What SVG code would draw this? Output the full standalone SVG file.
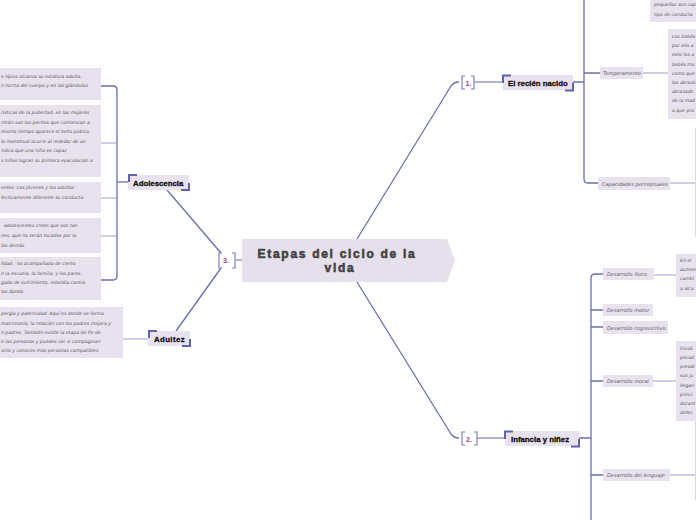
<svg xmlns="http://www.w3.org/2000/svg" width="696" height="520" viewBox="0 0 696 520">
<style>
.blk{fill:#e8e2ee}
.t{font-family:"DejaVu Sans",sans-serif;font-style:italic;font-size:4.6px;fill:#5a5a5a}
.st{font-family:"DejaVu Sans",sans-serif;font-style:italic;font-size:5px;fill:#5a5a5a}
.lbl{font-family:"Liberation Sans",Arial,sans-serif;font-weight:bold;font-size:7.8px;fill:#111;stroke:#111;stroke-width:0.3}
.num{font-family:"Liberation Sans",Arial,sans-serif;font-weight:bold;font-size:7px;fill:#9b3f8f}
.main{fill:none;stroke:#6c6eab;stroke-width:1.3}
.thin{fill:none;stroke:#9c9dca;stroke-width:1}
.br{fill:none;stroke:#7d7fb8;stroke-width:1.2}
.cor{fill:none;stroke:#5f62a6;stroke-width:2}
.title{font-family:"Liberation Sans",Arial,sans-serif;font-weight:bold;font-size:12px;fill:#444;stroke:#444;stroke-width:0.6;letter-spacing:1.7px}
</style>
<g id="connectors">
<path class="main" d="M357 239 L451 86 Q454 82 459 82"/>
<path class="main" d="M357 282 L451 434 Q454 438 459 438"/>
<path class="main" d="M221 253 L167 190"/>
<path class="main" d="M221 268 L176 331"/>
<path class="br" d="M236 260 H242"/>
<path class="br" d="M475 82 H503"/>
<path class="br" d="M477 438 H505"/>
<path class="main" d="M128 182 H117"/>
<path class="main" d="M117 182 V90 Q117 86 113 86 H101"/>
<path class="main" d="M117 182 V276 Q117 280 113 280 H101"/>
<path class="thin" d="M117 143 H101 M117 198 H101 M117 236 H101"/>
<path class="thin" d="M148 339 H123"/>
<path class="main" d="M573 82 H584 M584 0 V179 Q584 183 588 183 H598 M584 73 H600"/>
<path class="thin" d="M643 73 H668 M670 183 H696"/>
<path class="main" d="M579 438 H591 M591 520 V278 Q591 274 595 274 H603 M591 310 H603 M591 327 H603 M591 381 H603 M591 475 H603"/>
<path class="thin" d="M654 275 H676 M653 381 H676 M670 475 H696"/>
<path fill="none" stroke="#dcd8e2" stroke-width="1" d="M695.5 128 V237 M695.5 420 V500"/>
</g>
<g id="central">
<path d="M242 239 H447 L455 260.5 L447 282 H242 Z" fill="#e6e0ec"/>
<text class="title" x="337" y="258" text-anchor="middle">Etapas del ciclo de la</text>
<text class="title" x="340" y="272" text-anchor="middle">vida</text>
</g>
<g id="num3">
<path class="br" d="M222 253 H219 V268 H222 M232 253 H235 V268 H232"/>
<text class="num" x="223" y="263">3.</text>
</g>
<g id="num1">
<path class="br" d="M465 76 H462 V89 H465 M471 76 H474 V89 H471"/>
<text class="num" x="465.5" y="86">1.</text>
</g>
<g id="num2">
<path class="br" d="M465 432 H462 V445 H465 M474 432 H477 V445 H474"/>
<text class="num" x="466" y="442">2.</text>
</g>
<g id="adolescencia">
<rect class="blk" x="128" y="175" width="61" height="15"/>
<path class="cor" d="M129 182 V175 H137 M189 183 V190 H181"/>
<text class="lbl" x="133" y="185.5">Adolescencia</text>
</g>
<g id="adultez">
<rect class="blk" x="148" y="331" width="42" height="15"/>
<path class="cor" d="M149 338 V331 H157 M190 339 V346 H182"/>
<text class="lbl" x="154" y="341.5" letter-spacing="0.4">Adultez</text>
</g>
<g id="recien-nacido">
<rect class="blk" x="503" y="75" width="70" height="15"/>
<path class="cor" d="M503 83 V75.5 H511 M573 83 V90.5 H565"/>
<text class="lbl" x="508" y="85.5">El recién nacido</text>
</g>
<g id="infancia">
<rect class="blk" x="505" y="431" width="74" height="15"/>
<path class="cor" d="M505 439 V431.5 H513 M579 439 V446.5 H571"/>
<text class="lbl" x="511" y="441.5">Infancia y niñez</text>
</g>
<g id="blk-a1">
<rect class="blk" x="0" y="68" width="101" height="32"/>
<text class="t" x="1" y="78">e típico alcanza su estatura adulta,</text>
<text class="t" x="1" y="87">n forma del cuerpo y en las glándulas</text>
</g>
<g id="blk-a2">
<rect class="blk" x="0" y="105" width="101" height="72"/>
<text class="t" x="1" y="114">rísticas de la pubertad, en las mujeres</text>
<text class="t" x="1" y="124">rtirán son los pechos que comienzan a</text>
<text class="t" x="1" y="133">mismo tiempo aparece el bello púbico</text>
<text class="t" x="1" y="143">lo menstrual ocurre al rededor de un</text>
<text class="t" x="1" y="152">ndica que una niña es capaz</text>
<text class="t" x="1" y="162">s niños logran su primera eyaculación a</text>
</g>
<g id="blk-a3">
<rect class="blk" x="0" y="182" width="101" height="31"/>
<text class="t" x="1" y="189">entes: Los jóvenes y los adultos</text>
<text class="t" x="1" y="199">fectivamente diferente su conducta</text>
</g>
<g id="blk-a4">
<rect class="blk" x="0" y="218" width="101" height="35"/>
<text class="t" x="4" y="227">adolescentes creen que son tan</text>
<text class="t" x="1" y="237">nes, que no serán tocados por la</text>
<text class="t" x="1" y="247">los demás</text>
</g>
<g id="blk-a5">
<rect class="blk" x="0" y="257" width="101" height="43"/>
<text class="t" x="1" y="265">lidad : Va acompañada de cierto</text>
<text class="t" x="1" y="275">n la escuela, la familia, y los pares.</text>
<text class="t" x="1" y="284">gado de sufrimiento, rebeldía contra</text>
<text class="t" x="1" y="293">los dando</text>
</g>
<g id="blk-adultez">
<rect class="blk" x="0" y="307" width="123" height="51"/>
<text class="t" x="1" y="315">pergía y paternidad: Aquí es donde se forma</text>
<text class="t" x="1" y="325">matrimonio, la relación con los padres mejora y</text>
<text class="t" x="1" y="334">n padres. También existe la etapa de fin de</text>
<text class="t" x="1" y="343">e las personas y puedes ver si compaginan</text>
<text class="t" x="1" y="352">onio y conoces más personas compatibles</text>
</g>
<g id="blk-top">
<rect class="blk" x="650" y="0" width="46" height="22"/>
<text class="t" x="654" y="6">pequeños son cap</text>
<text class="t" x="654" y="16">tipo de conducta</text>
</g>
<g id="temperamento">
<rect class="blk" x="600" y="67" width="43" height="12"/>
<text class="st" x="603" y="75">Temperamento</text>
</g>
<g id="blk-temp">
<rect class="blk" x="668" y="29" width="28" height="90"/>
<text class="t" x="672" y="38">Los bebés</text>
<text class="t" x="672" y="47">por ello a</text>
<text class="t" x="672" y="56">esto los a</text>
<text class="t" x="672" y="66">bebés mu</text>
<text class="t" x="672" y="75">como que</text>
<text class="t" x="672" y="84">los abrazo</text>
<text class="t" x="672" y="93">abrazado</text>
<text class="t" x="672" y="102">de la mad</text>
<text class="t" x="672" y="112">a que pro</text>
</g>
<g id="capacidades">
<rect class="blk" x="598" y="177" width="72" height="13"/>
<text class="st" x="602" y="185.5">Capacidades perceptuales</text>
</g>
<g id="d-fisico">
<rect class="blk" x="603" y="268" width="51" height="12"/>
<text class="st" x="607" y="276">Desarrollo físico</text>
</g>
<g id="blk-fisico">
<rect class="blk" x="676" y="254" width="20" height="43"/>
<text class="t" x="680" y="262">En el</text>
<text class="t" x="680" y="271">aumen</text>
<text class="t" x="680" y="280">cambi</text>
<text class="t" x="680" y="290">a alca</text>
</g>
<g id="d-motor">
<rect class="blk" x="603" y="304" width="50" height="12"/>
<text class="st" x="607" y="312">Desarrollo motor</text>
</g>
<g id="d-cognoscitivo">
<rect class="blk" x="603" y="321" width="65" height="13"/>
<text class="st" x="607" y="329.5">Desarrollo cognoscitivo</text>
</g>
<g id="d-moral">
<rect class="blk" x="603" y="375" width="50" height="12"/>
<text class="st" x="607" y="383">Desarrollo moral</text>
</g>
<g id="blk-moral">
<rect class="blk" x="676" y="341" width="20" height="80"/>
<text class="t" x="680" y="350">Dividi</text>
<text class="t" x="680" y="359">pecad</text>
<text class="t" x="680" y="368">preadi</text>
<text class="t" x="680" y="377">sus ju</text>
<text class="t" x="680" y="387">llegan</text>
<text class="t" x="680" y="396">princi</text>
<text class="t" x="680" y="405">durant</text>
<text class="t" x="680" y="414">defec</text>
</g>
<g id="d-lenguaje">
<rect class="blk" x="603" y="469" width="67" height="12"/>
<text class="st" x="607" y="477">Desarrollo del lenguaje</text>
</g>
</svg>
